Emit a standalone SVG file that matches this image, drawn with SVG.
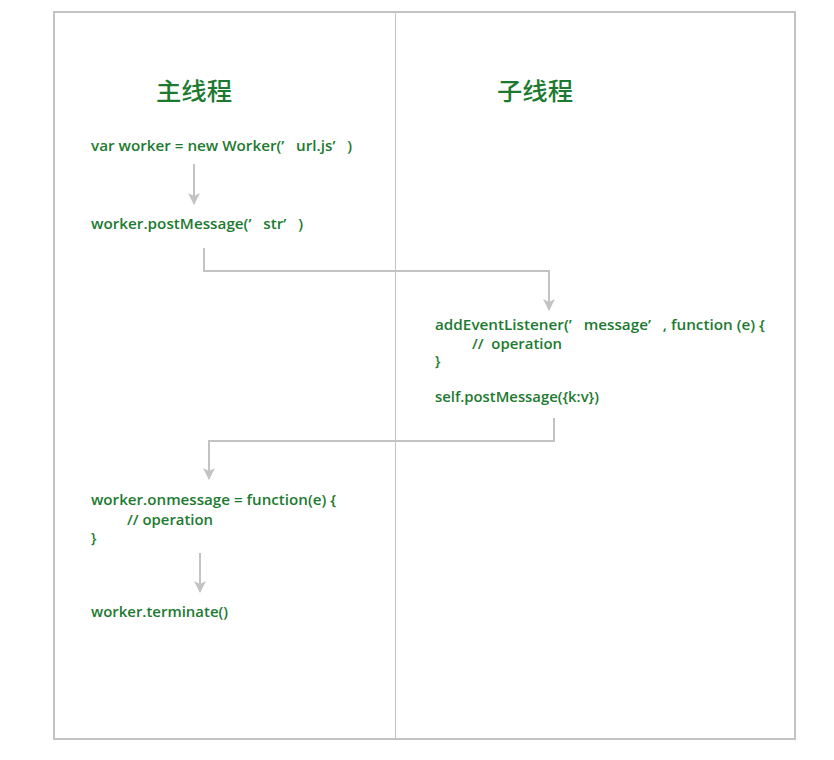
<svg xmlns="http://www.w3.org/2000/svg" width="834" height="760" viewBox="0 0 834 760">
<style>
.frame{fill:none;stroke:#c3c3c3;stroke-width:2}
.div{stroke:#c3c3c3;stroke-width:1}
.conn{fill:none;stroke:#c3c3c3;stroke-width:2}
.code{font-family:"Open Sans","Liberation Sans","Noto Sans CJK SC",sans-serif;font-size:14px;font-weight:600;fill:#1c7a30;white-space:pre}
.title{font-family:"Noto Sans CJK SC","Noto Sans",sans-serif;font-size:24px;font-weight:500;fill:#1c7a30}
</style>
<defs>
<marker id="ah" markerWidth="12" markerHeight="12" viewBox="0 0 12 12" refX="11" refY="6" orient="auto" markerUnits="userSpaceOnUse">
<path d="M0,0 L12,6 L0,12 L3,6 Z" fill="#c3c3c3"/>
</marker>
</defs>
<rect width="834" height="760" fill="#fff"/>
<rect class="frame" x="54" y="12" width="741" height="727"/>
<line class="div" x1="395.5" y1="12" x2="395.5" y2="739"/>
<g id="title-main"><text class="title" x="156" y="100" textLength="76" lengthAdjust="spacingAndGlyphs">主线程</text></g>
<g id="title-worker"><text class="title" x="497" y="100" textLength="76" lengthAdjust="spacingAndGlyphs">子线程</text></g>
<g id="n1"><text class="code" x="91" y="151" textLength="261" lengthAdjust="spacingAndGlyphs">var worker = new Worker(’   url.js’   )</text></g>
<g id="n2"><text class="code" x="91" y="229" textLength="212" lengthAdjust="spacingAndGlyphs">worker.postMessage(’   str’   )</text></g>
<g id="n3">
<text class="code" x="435" y="330" textLength="330" lengthAdjust="spacingAndGlyphs">addEventListener(’   message’   , function (e) {</text>
<text class="code" x="472" y="349" textLength="90" lengthAdjust="spacingAndGlyphs">//  operation</text>
<text class="code" x="435" y="366">}</text>
</g>
<g id="n4"><text class="code" x="435" y="402" textLength="164" lengthAdjust="spacingAndGlyphs">self.postMessage({k:v})</text></g>
<g id="n5">
<text class="code" x="91" y="505" textLength="245" lengthAdjust="spacingAndGlyphs">worker.onmessage = function(e) {</text>
<text class="code" x="127" y="525" textLength="86" lengthAdjust="spacingAndGlyphs">// operation</text>
<text class="code" x="91" y="543">}</text>
</g>
<g id="n6"><text class="code" x="91" y="617" textLength="137" lengthAdjust="spacingAndGlyphs">worker.terminate()</text></g>
<g id="connectors">
<path class="conn" d="M194,164 V204" marker-end="url(#ah)"/>
<path class="conn" d="M204,248 V271 H549 V310" marker-end="url(#ah)"/>
<path class="conn" d="M554,418 V441 H209 V479" marker-end="url(#ah)"/>
<path class="conn" d="M200,553 V592" marker-end="url(#ah)"/>
</g>
</svg>
